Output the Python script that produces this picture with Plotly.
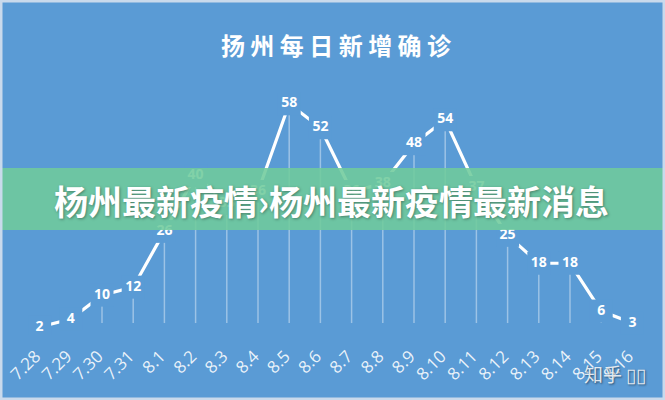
import plotly.graph_objects as go

# ---- data ----
dates = ["7.28", "7.29", "7.30", "7.31", "8.1", "8.2", "8.3", "8.4", "8.5", "8.6",
         "8.7", "8.8", "8.9", "8.10", "8.11", "8.12", "8.13", "8.14", "8.15", "8.16"]
new_cases = [2, 4, 10, 12, 26, 40, 33, 36, 58, 52,
             36, 38, 48, 54, 37, 25, 18, 18, 6, 3]
title_text = "扬 州 每 日 新 增 确 诊"
banner_text = "杨州最新疫情›杨州最新疫情最新消息"
watermark_text = "知乎 ▯▯"

# ---- style / layout ----
W, H = 665, 400
ML, MR, MT, MB = 24, 17, 56, 65
BG = "#5a9bd5"
DROP_END = 3

pw = W - ML - MR
ph = H - MT - MB


def px_x(px):
    return (px - ML) / pw


def px_y(py):
    return (H - MB - py) / ph


fig = go.Figure()

# drop lines
dx, dy = [], []
for d, v in zip(dates, new_cases):
    dx += [d, d, None]
    dy += [v, DROP_END, None]
fig.add_trace(go.Scatter(x=dx, y=dy, mode="lines",
                         line=dict(color="rgba(255,255,255,0.4)", width=1.5),
                         hoverinfo="skip", showlegend=False))

# main line
fig.add_trace(go.Scatter(x=dates, y=new_cases, mode="lines",
                         line=dict(color="white", width=3.2),
                         showlegend=False))

# labels with background squares that cut the line
fig.add_trace(go.Scatter(x=dates, y=new_cases, mode="markers+text",
                         text=[str(v) for v in new_cases],
                         textposition="middle center",
                         textfont=dict(family="Open Sans", size=14, color="white", weight="bold"),
                         marker=dict(symbol="square", size=23, color=BG, line=dict(width=0)),
                         showlegend=False))

shapes = [
    dict(type="rect", xref="paper", yref="paper",
         x0=px_x(-2), x1=px_x(W + 2), y0=px_y(168), y1=px_y(230),
         fillcolor="rgba(112,203,156,0.88)", line=dict(width=0), layer="above"),
    dict(type="rect", xref="paper", yref="paper",
         x0=px_x(1), x1=px_x(W - 1), y0=px_y(1), y1=px_y(H - 1),
         fillcolor="rgba(0,0,0,0)", line=dict(color="#c9daec", width=3), layer="above"),
]

annotations = [
    dict(text=banner_text, xref="paper", yref="paper", x=px_x(W / 2 - 1), y=px_y(200),
         xanchor="center", yanchor="middle", showarrow=False,
         font=dict(family="Noto Sans CJK SC", size=34, color="white", weight="bold",
                   shadow="1px 1px 3px rgba(0,0,0,0.35)")),
    dict(text=watermark_text, xref="paper", yref="paper", x=px_x(648), y=px_y(373),
         xanchor="right", yanchor="middle", showarrow=False,
         font=dict(family="Noto Sans CJK SC", size=19, color="rgba(235,240,245,0.95)",
                   shadow="1px 1px 2px rgba(0,0,0,0.5)")),
]

fig.update_layout(
    width=W, height=H,
    margin=dict(l=ML, r=MR, t=MT, b=MB, autoexpand=False),
    paper_bgcolor=BG, plot_bgcolor=BG,
    title=dict(text=title_text, x=0.5, xref="paper", xanchor="center",
               y=1 - 47 / H, yref="container", yanchor="middle",
               font=dict(family="Noto Sans CJK SC", size=24, color="white", weight="bold")),
    xaxis=dict(type="category", range=[-0.5, len(dates) - 0.5], showgrid=False,
               zeroline=False, showline=False, tickangle=-45, ticks="",
               ticklabelstandoff=7, ticklabelshift=-4, automargin=False,
               tickfont=dict(family="Open Sans", size=17, color="rgba(255,255,255,0.88)")),
    yaxis=dict(range=[0, 70], showgrid=False, zeroline=False, showline=False,
               showticklabels=False, automargin=False),
    shapes=shapes, annotations=annotations,
)

fig.write_html("out.html", config={"displayModeBar": False},
               post_script="document.body.style.margin='0';document.body.style.overflow='hidden';")
